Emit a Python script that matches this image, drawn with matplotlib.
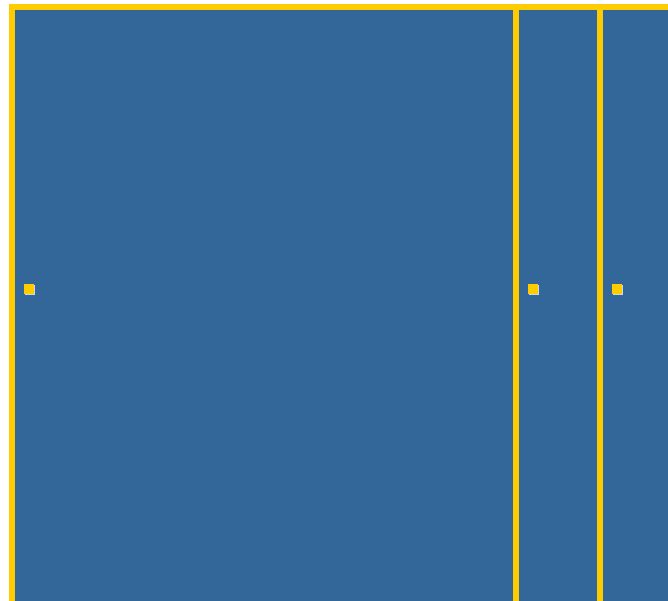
import matplotlib
matplotlib.use("Agg")
import matplotlib.pyplot as plt
from matplotlib.patches import Rectangle
from matplotlib.transforms import ScaledTranslation

# cells of a treemap-like strip, only partly visible in the crop
categories = ["A", "B", "C"]
widths = [60, 10, 14]
marker_level = 0.445          # relative height of the cell markers

BLUE = "#336699"
YELLOW = "#FFCC00"
DPI = 100

fig = plt.figure(figsize=(6.68, 6.01), dpi=DPI)
fig.patch.set_facecolor("white")
ax = fig.add_axes([0, 0, 1, 1])
ax.set_axis_off()

# view window: cell strip starts 12 px from the left, 7 px from the top
px_per_unit = 8.4
ax.set_xlim(-12 / px_per_unit, (668 - 12) / px_per_unit)
ax.set_ylim((601 - 7) / 633, -7 / 633)

left = 0.0
lefts = []
for w in widths:
    ax.add_patch(Rectangle((left, 0), w, 1, facecolor=BLUE, edgecolor=YELLOW,
                           linewidth=4.3, zorder=1))
    lefts.append(left)
    left += w

# markers sit a fixed distance inside each cell, with a soft white shadow
shift = ScaledTranslation(17 / DPI, 0, fig.dpi_scale_trans)
shadow = ScaledTranslation(18.2 / DPI, -1.2 / DPI, fig.dpi_scale_trans)
ax.plot(lefts, [marker_level] * len(lefts), "s", ms=7.6, color="white",
        mew=0, alpha=0.75, transform=ax.transData + shadow, zorder=2)
ax.plot(lefts, [marker_level] * len(lefts), "s", ms=7.6, color=YELLOW,
        mew=0, transform=ax.transData + shift, zorder=3)

fig.savefig("out.png", dpi=DPI)
